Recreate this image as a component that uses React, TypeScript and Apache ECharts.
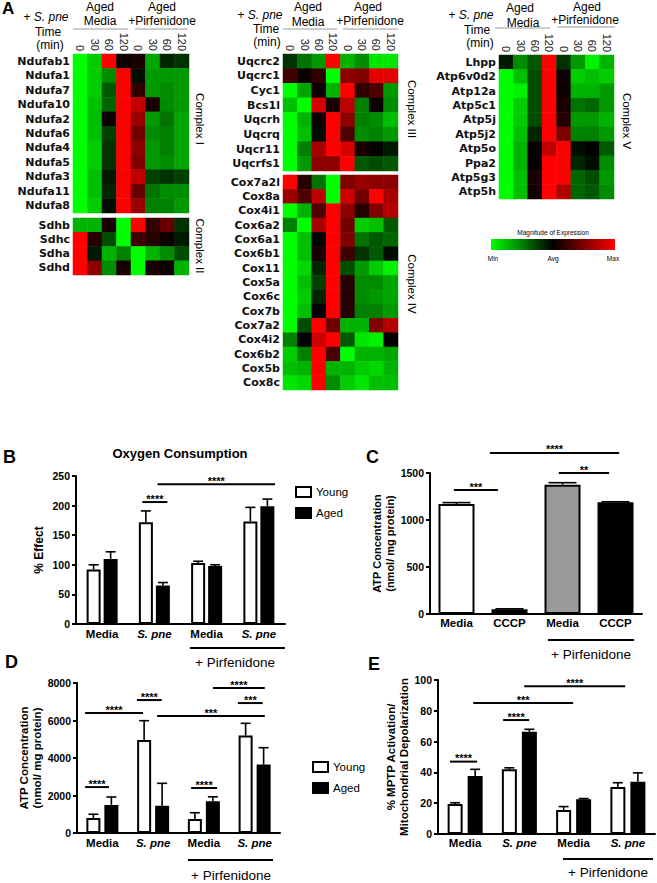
import React, { useEffect, useRef } from 'react';
import * as echarts from 'echarts';

// ---------- Panel A: heatmaps (green = min, black = avg, red = max) ----------
const timeLabels = ['0', '30', '60', '120', '0', '30', '60', '120'];

const complexIGenes = ['Ndufab1', 'Ndufa1', 'Ndufa7', 'Ndufa10', 'Ndufa2', 'Ndufa6', 'Ndufa4', 'Ndufa5', 'Ndufa3', 'Ndufa11', 'Ndufa8'];
const complexIValues = [
  [-1, -0.8, 1, 0.05, 0.1, -0.65, -0.15, -0.2],
  [-1, -0.8, -0.55, 1, -0.05, -0.6, -0.6, -0.6],
  [-1, -0.8, -0.35, 1, 0.2, -0.6, -0.55, -0.6],
  [-1, -0.75, -0.4, 1, 0.75, 0.1, -0.55, -0.6],
  [-1, -0.75, 0.05, 1, 0.6, -0.6, -0.45, -0.65],
  [-1, -0.75, -0.25, 1, 0.45, -0.55, -0.5, -0.65],
  [-1, -0.8, -0.2, 1, 0.55, -0.6, -0.5, -0.65],
  [-1, -0.8, -0.2, 1, 0.5, -0.6, -0.55, -0.65],
  [-1, -0.75, -0.1, 1, 0.75, -0.25, -0.2, -0.25],
  [-1, -0.75, -0.15, 1, 0.4, -0.45, -0.55, -0.55],
  [-1, -0.8, -0.05, 1, 0.6, -0.5, -0.5, -0.6],
];

const complexIIGenes = ['Sdhb', 'Sdhc', 'Sdha', 'Sdhd'];
const complexIIValues = [
  [-0.7, -0.7, 0.1, -1, 1, 0.2, 0.4, -0.2],
  [1, 0.15, -0.3, -1, 0.25, 0.15, 0.05, -0.1],
  [1, -0.1, -0.7, -0.5, -1, -0.7, -0.55, -0.3],
  [1, 0.55, -0.55, 0.1, -1, 0.1, 0.05, -0.7],
];

const complexIIIGenes = ['Uqcrc2', 'Uqcrc1', 'Cyc1', 'Bcs1l', 'Uqcrh', 'Uqcrq', 'Uqcr11', 'Uqcrfs1'];
const complexIIIValues = [
  [-0.2, -0.45, -0.6, 1, -0.7, -0.55, -0.9, -0.9],
  [0.25, 0.05, 0.2, -1, 0.55, 0.5, 0.9, 0.9],
  [-1, -0.65, 0.05, -0.7, 1, 0.2, 0.3, -0.6],
  [-0.75, -1, 0.85, 0.1, 0.75, -0.5, 0.05, -0.55],
  [-1, -0.7, 0.05, 1, 0.55, -0.5, -0.55, -0.75],
  [-1, -0.75, -0.05, 1, 0.3, -0.55, -0.5, -0.6],
  [-1, -0.5, 0.65, 1, 0.85, 0.1, 0.02, -0.1],
  [-1, -0.6, 0.55, 0.55, 1, -0.35, -0.3, -0.35],
];

const complexIVGenes = ['Cox7a2l', 'Cox8a', 'Cox4i1', 'Cox6a2', 'Cox6a1', 'Cox6b1', 'Cox11', 'Cox5a', 'Cox6c', 'Cox7b', 'Cox7a2', 'Cox4i2', 'Cox6b2', 'Cox5b', 'Cox8c'];
const complexIVValues = [
  [1, 0.15, -0.45, -1, 0.5, 0.6, 0.55, 0.55],
  [0.6, 0.3, 0.75, -1, 0.8, 0.45, 1, 0.65],
  [-1, -0.7, 0.3, 1, 0.55, 0.15, 0.5, 0.7],
  [-0.5, -1, 0.65, 1, 0.45, -0.8, -0.75, -0.35],
  [-1, -0.75, -0.02, 1, 0.5, -0.45, -0.35, -0.4],
  [-1, -0.75, 0.1, 1, 0.25, -0.2, -0.35, -0.05],
  [-1, -0.85, -0.15, 1, -0.3, -0.6, -0.8, -0.95],
  [-1, -0.75, -0.25, 1, 0.15, -0.55, -0.55, -0.65],
  [-1, -0.8, -0.15, 1, 0.15, -0.55, -0.6, -0.65],
  [-1, -0.75, 0, 1, 0.15, -0.5, -0.5, -0.6],
  [-1, -0.3, 1, 0.45, -0.7, -0.7, 0.5, 0.7],
  [-0.5, 0, 0.8, 1, -0.35, -0.9, -0.95, 0.02],
  [-0.8, -0.5, 1, 0.3, -1, -0.7, -0.7, -0.65],
  [-0.75, -0.7, 1, -0.7, -0.7, -0.8, -0.85, -0.7],
  [-0.9, -0.85, 1, -0.55, -0.8, -0.9, -0.75, -0.75],
];

const complexVGenes = ['Lhpp', 'Atp6v0d2', 'Atp12a', 'Atp5c1', 'Atp5j', 'Atp5j2', 'Atp5o', 'Ppa2', 'Atp5g3', 'Atp5h'];
const complexVValues = [
  [-0.1, -0.55, -0.35, 1, -0.2, -0.6, -0.95, -0.7],
  [-1, -0.75, -0.3, 1, 0.05, -0.8, -0.75, -0.8],
  [-1, -0.95, -0.3, 1, 0.05, -0.7, -0.7, -0.6],
  [-1, -0.8, -0.3, 1, 0.1, -0.45, -0.4, -0.6],
  [-1, -0.8, -0.3, 1, 0.15, -0.6, -0.6, -0.7],
  [-1, -0.75, -0.15, 1, 0.5, -0.5, -0.5, -0.6],
  [-1, -0.7, 0.02, 0.75, 1, -0.05, 0.02, -0.35],
  [-1, -0.7, 0.02, 1, 1, -0.15, -0.05, -0.55],
  [-1, -0.75, 0.1, 1, 1, -0.4, -0.3, -0.6],
  [-1, -0.75, 0.08, 1, 0.7, -0.4, -0.35, -0.55],
];

// ---------- Panel B: Oxygen consumption ----------
const groupCats = ['Media', 'S. pne', 'Media', 'S. pne'];
const oxyYoung = [92, 172, 103, 173];
const oxyYoungErr = [8, 19, 3, 24];
const oxyAged = [110, 65, 98, 199];
const oxyAgedErr = [12, 5, 2, 12];
// [y value, x start (category units), x end, number of stars]
const oxySig = [[206, 0.77, 1.25, 4], [236, 1.06, 3.31, 4]];

// ---------- Panel C: ATP with CCCP ----------
const cccpCats = ['Media', 'CCCP', 'Media', 'CCCP'];
const cccpValues = [1170, 50, 1375, 1190];
const cccpErr = [15, 5, 22, 4];
const cccpColors = ['#ffffff', '#000000', '#9a9a9a', '#000000'];
const cccpSig = [[1319, -0.05, 0.78, 3], [1713, 0.63, 3.07, 4], [1500, 1.93, 2.88, 2]];

// ---------- Panel D: ATP concentration ----------
const atpYoung = [800, 4960, 750, 5200];
const atpYoungErr = [200, 1030, 330, 650];
const atpAged = [1500, 1450, 1700, 3650];
const atpAgedErr = [420, 1200, 230, 900];
const atpSig = [[2450, -0.34, 0.13, 4], [6400, -0.34, 0.8, 4], [7090, 0.68, 1.17, 4], [6240, 1.08, 3.2, 3], [2400, 1.75, 2.26, 4], [7730, 2.18, 3.2, 4], [6930, 2.67, 3.16, 3]];

// ---------- Panel E: MPTP activation ----------
const mptpYoung = [19.5, 42, 15.6, 30.5];
const mptpYoungErr = [0.8, 1, 2.2, 2.8];
const mptpAged = [37.7, 66.4, 22.5, 34];
const mptpAgedErr = [4.3, 1.6, 0.5, 5.7];
const mptpSig = [[47, -0.28, 0.22, 4], [74, 0.7, 1.18, 4], [85, 0.15, 1.99, 3], [96, 1.09, 2.95, 4]];

const SANS = '"Liberation Sans", Arial, sans-serif';
const DEJAVU = '"DejaVu Sans", Verdana, sans-serif';
const NARROW = '"Liberation Sans Narrow", "Liberation Sans", sans-serif';

function txt(text: string, x: number, y: number, o: any = {}) {
  const align = o.align || 'center';
  const valign = o.valign || 'middle';
  return {
    type: 'text',
    x,
    y,
    rotation: o.rotation || 0,
    silent: true,
    style: {
      text,
      fill: o.color || '#000',
      fontSize: o.size || 12,
      fontFamily: o.family || SANS,
      fontWeight: o.weight || 'normal',
      fontStyle: o.style || 'normal',
      align,
      textAlign: align,
      verticalAlign: valign,
      textVerticalAlign: valign,
      rich: o.rich,
    },
  };
}

function ln(x1: number, y1: number, x2: number, y2: number, color = '#000', w = 2) {
  return { type: 'line', silent: true, shape: { x1, y1, x2, y2 }, style: { stroke: color, lineWidth: w } };
}

function errRender(offset: number, capHalf: number) {
  return (params: any, api: any) => {
    const cat = api.value(0);
    const mean = api.value(1);
    const err = api.value(2);
    const base = api.coord([cat, mean]);
    const top = api.coord([cat, mean + err]);
    const x = base[0] + offset;
    return {
      type: 'group',
      children: [
        { type: 'line', shape: { x1: x, y1: base[1], x2: x, y2: top[1] }, style: { stroke: '#000', lineWidth: 1.6 } },
        { type: 'line', shape: { x1: x - capHalf, y1: top[1], x2: x + capHalf, y2: top[1] }, style: { stroke: '#000', lineWidth: 1.6 } },
      ],
    };
  };
}

function sigRender(params: any, api: any) {
  const y = api.value(1);
  const x1 = api.value(2);
  const x2 = api.value(3);
  const n = api.value(4);
  const base = api.coord([0, y]);
  const band = api.size([1, 0])[0];
  const p1 = base[0] + x1 * band;
  const p2 = base[0] + x2 * band;
  return {
    type: 'group',
    children: [
      { type: 'line', shape: { x1: p1, y1: base[1], x2: p2, y2: base[1] }, style: { stroke: '#000', lineWidth: 2 } },
      {
        type: 'text',
        style: {
          text: '*'.repeat(n),
          x: (p1 + p2) / 2,
          y: base[1] + 2,
          align: 'center',
          verticalAlign: 'bottom',
          textAlign: 'center',
          textVerticalAlign: 'bottom',
          fontSize: 11,
          fontWeight: 'bold',
          fontFamily: SANS,
          fill: '#000',
        },
      },
    ],
  };
}

const catFmt = (v: string) => (v === 'S. pne' ? `{i|${v}}` : `{b|${v}}`);
const catRich = {
  b: { fontWeight: 'bold', fontSize: 11.5, fontFamily: SANS, color: '#000' },
  i: { fontWeight: 'bold', fontStyle: 'italic', fontSize: 11.5, fontFamily: SANS, color: '#000' },
};

function buildOption() {
  const heatBlocks = [
    { genes: complexIGenes, values: complexIValues, rect: [73, 54, 116, 159], cols: true },
    { genes: complexIIGenes, values: complexIIValues, rect: [73, 218, 116, 57], cols: false },
    { genes: complexIIIGenes, values: complexIIIValues, rect: [283, 54, 115, 117], cols: true },
    { genes: complexIVGenes, values: complexIVValues, rect: [283, 175, 115, 215], cols: false },
    { genes: complexVGenes, values: complexVValues, rect: [499, 55, 115, 144], cols: true },
  ];

  const grid: any[] = [];
  const xAxis: any[] = [];
  const yAxis: any[] = [];
  const series: any[] = [];

  heatBlocks.forEach((b, i) => {
    grid.push({ left: b.rect[0], top: b.rect[1], width: b.rect[2], height: b.rect[3], containLabel: false });
    xAxis.push({
      type: 'category',
      gridIndex: i,
      data: timeLabels,
      position: 'top',
      axisLine: { show: false },
      axisTick: { show: false },
      splitLine: { show: false },
      axisLabel: { show: b.cols, rotate: 90, interval: 0, fontSize: 11, fontFamily: SANS, color: '#222', margin: 3 },
    });
    yAxis.push({
      type: 'category',
      gridIndex: i,
      data: b.genes,
      inverse: true,
      axisLine: { show: false },
      axisTick: { show: false },
      splitLine: { show: false },
      axisLabel: { interval: 0, fontSize: 11, fontWeight: 'bold', fontFamily: DEJAVU, color: '#111', margin: 3 },
    });
    const data: any[] = [];
    b.values.forEach((row, r) => row.forEach((v, c) => data.push([c, r, v])));
    series.push({
      type: 'heatmap',
      xAxisIndex: i,
      yAxisIndex: i,
      data,
      itemStyle: { borderWidth: 0 },
      emphasis: { disabled: true },
    });
  });

  const axisLineStyle = { color: '#000', width: 2 };
  const valueAxis = (gi: number, max: number, interval: number, name: string, nameGap: number, nameSize = 11) => ({
    type: 'value',
    gridIndex: gi,
    min: 0,
    max,
    interval,
    axisLine: { show: true, lineStyle: axisLineStyle },
    axisTick: { show: true, length: 4, lineStyle: axisLineStyle },
    splitLine: { show: false },
    axisLabel: { color: '#000', fontWeight: 'bold', fontSize: 10.5, fontFamily: SANS, margin: 6, formatter: (v: number) => String(v) },
    name,
    nameLocation: 'middle',
    nameGap,
    nameRotate: 90,
    nameTextStyle: { color: '#000', fontWeight: 'bold', fontSize: nameSize, fontFamily: SANS, lineHeight: 13 },
  });
  const catAxis = (gi: number, data: string[], margin: number) => ({
    type: 'category',
    gridIndex: gi,
    data,
    axisLine: { show: true, lineStyle: axisLineStyle },
    axisTick: { show: false },
    splitLine: { show: false },
    axisLabel: { interval: 0, margin, formatter: catFmt, rich: catRich },
  });

  // grid 5: B, 6: C, 7: D, 8: E
  grid.push({ left: 76, top: 476, width: 209, height: 148 });
  grid.push({ left: 430, top: 473, width: 212, height: 141 });
  grid.push({ left: 77, top: 683, width: 203, height: 150 });
  grid.push({ left: 438, top: 680, width: 217, height: 154 });

  xAxis.push(catAxis(5, groupCats, 4));
  xAxis.push(catAxis(6, cccpCats, 3));
  xAxis.push(catAxis(7, groupCats, 4));
  xAxis.push(catAxis(8, groupCats, 3));

  yAxis.push(valueAxis(5, 250, 50, '% Effect', 31, 12));
  yAxis.push(valueAxis(6, 1500, 500, 'ATP Concentration\n(nmol/ mg protein)', 30, 11));
  yAxis.push(valueAxis(7, 8000, 2000, 'ATP Concentration\n(nmol/ mg protein)', 34, 11.5));
  yAxis.push(valueAxis(8, 100, 20, '% MPTP Activation/\nMitochondrial Depolarization', 28, 11.5));

  const youngStyle = { color: '#ffffff', borderColor: '#000', borderWidth: 2 };
  const agedStyle = { color: '#000000', borderColor: '#000', borderWidth: 2 };

  const pairChart = (gi: number, young: number[], youngErr: number[], aged: number[], agedErr: number[], bw: number, gapPx: number, cap: number, sig: number[][]) => {
    const gapPct = `${(gapPx / bw) * 100}%`;
    const off = (bw + gapPx) / 2;
    series.push({ type: 'bar', name: 'Young', xAxisIndex: gi, yAxisIndex: gi, data: young, barWidth: bw, barGap: gapPct, itemStyle: youngStyle, emphasis: { disabled: true }, z: 2 });
    series.push({ type: 'bar', name: 'Aged', xAxisIndex: gi, yAxisIndex: gi, data: aged, barWidth: bw, barGap: gapPct, itemStyle: agedStyle, emphasis: { disabled: true }, z: 2 });
    series.push({ type: 'custom', xAxisIndex: gi, yAxisIndex: gi, renderItem: errRender(-off, cap), data: young.map((v, i) => [i, v, youngErr[i]]), encode: { x: 0, y: 1 }, clip: false, silent: true, z: 3 });
    series.push({ type: 'custom', xAxisIndex: gi, yAxisIndex: gi, renderItem: errRender(off, cap), data: aged.map((v, i) => [i, v, agedErr[i]]), encode: { x: 0, y: 1 }, clip: false, silent: true, z: 3 });
    series.push({ type: 'custom', xAxisIndex: gi, yAxisIndex: gi, renderItem: sigRender, data: sig.map((s) => [0, s[0], s[1], s[2], s[3]]), encode: { x: 0, y: 1 }, clip: false, silent: true, z: 4 });
  };

  pairChart(5, oxyYoung, oxyYoungErr, oxyAged, oxyAgedErr, 14, 3, 5, oxySig);

  // C
  series.push({
    type: 'bar',
    name: 'ATP',
    xAxisIndex: 6,
    yAxisIndex: 6,
    barWidth: 36,
    data: cccpValues.map((v, i) => ({ value: v, itemStyle: { color: cccpColors[i], borderColor: '#000', borderWidth: 2 } })),
    emphasis: { disabled: true },
    z: 2,
  });
  series.push({ type: 'custom', xAxisIndex: 6, yAxisIndex: 6, renderItem: errRender(0, 14), data: cccpValues.map((v, i) => [i, v, cccpErr[i]]), encode: { x: 0, y: 1 }, clip: false, silent: true, z: 3 });
  series.push({ type: 'custom', xAxisIndex: 6, yAxisIndex: 6, renderItem: sigRender, data: cccpSig.map((s) => [0, s[0], s[1], s[2], s[3]]), encode: { x: 0, y: 1 }, clip: false, silent: true, z: 4 });

  pairChart(7, atpYoung, atpYoungErr, atpAged, atpAgedErr, 14, 4, 5, atpSig);
  pairChart(8, mptpYoung, mptpYoungErr, mptpAged, mptpAgedErr, 15, 5, 5, mptpSig);

  const legendBase = {
    orient: 'vertical',
    itemWidth: 15,
    itemHeight: 10,
    itemGap: 9,
    icon: 'rect',
    selectedMode: false,
    textStyle: { fontSize: 11.5, fontFamily: SANS, color: '#000' },
    data: [
      { name: 'Young', itemStyle: { color: '#fff', borderColor: '#000', borderWidth: 2 } },
      { name: 'Aged', itemStyle: { color: '#000', borderColor: '#000', borderWidth: 2 } },
    ],
  };

  const pne = { i: { fontStyle: 'italic', fontSize: 12, fontFamily: SANS } };
  const hdrColor = '#9a9a9a';
  const graphic: any[] = [
    // panel letters
    txt('A', 2, 0, { size: 17, weight: 'bold', align: 'left', valign: 'top' }),
    txt('B', 3, 448, { size: 18, weight: 'bold', align: 'left', valign: 'top' }),
    txt('C', 366, 448, { size: 18, weight: 'bold', align: 'left', valign: 'top' }),
    txt('D', 5, 653, { size: 18, weight: 'bold', align: 'left', valign: 'top' }),
    txt('E', 368, 655, { size: 18, weight: 'bold', align: 'left', valign: 'top' }),

    // heatmap headers: left
    txt('+ {i|S. pne}', 46, 17, { rich: pne }),
    txt('Time', 48, 32),
    txt('(min)', 50, 45),
    txt('Aged', 100, 7),
    txt('Media', 100, 21),
    txt('Aged', 162, 7),
    txt('+Pirfenidone', 162, 21),
    ln(73, 29, 128, 29, hdrColor, 1),
    ln(135, 29, 188, 29, hdrColor, 1),
    // middle
    txt('+ {i|S. pne}', 260, 15, { rich: pne }),
    txt('Time', 266, 29),
    txt('(min)', 267, 42),
    txt('Aged', 308, 7),
    txt('Media', 308, 22),
    txt('Aged', 368, 7),
    txt('+Pirfenidone', 370, 21),
    ln(283, 29, 337, 29, hdrColor, 1),
    ln(343, 29, 398, 29, hdrColor, 1),
    // right
    txt('+ {i|S. pne}', 471, 15, { rich: pne }),
    txt('Time', 477, 30),
    txt('(min)', 480, 43),
    txt('Aged', 520, 8),
    txt('Media', 523, 23),
    txt('Aged', 587, 7),
    txt('+Pirfenidone', 585, 20),
    ln(495, 28, 550, 28, hdrColor, 1),
    ln(557, 27, 615, 27, hdrColor, 1),

    // complex labels
    txt('Complex I', 200, 119, { rotation: -Math.PI / 2, size: 11.5 }),
    txt('Complex II', 200, 246, { rotation: -Math.PI / 2, size: 11.5 }),
    txt('Complex III', 412, 109, { rotation: -Math.PI / 2, size: 11.5 }),
    txt('Complex IV', 412, 284, { rotation: -Math.PI / 2, size: 11.5 }),
    txt('Complex V', 627, 121, { rotation: -Math.PI / 2, size: 11.5 }),

    // color scale
    txt('Magnitude of Expression', 553, 232, { size: 6.5, family: NARROW }),
    {
      type: 'rect',
      silent: true,
      shape: { x: 491, y: 239, width: 124, height: 11 },
      style: {
        fill: new echarts.graphic.LinearGradient(0, 0, 1, 0, [
          { offset: 0, color: '#00ff00' },
          { offset: 0.5, color: '#000000' },
          { offset: 1, color: '#ff0000' },
        ]),
      },
    },
    txt('Min', 493, 258, { size: 6.5, family: NARROW }),
    txt('Avg', 553, 258, { size: 6.5, family: NARROW }),
    txt('Max', 613, 258, { size: 6.5, family: NARROW }),

    // B
    txt('Oxygen Consumption', 180, 453, { size: 13, weight: 'bold' }),
    ln(190, 648, 285, 648),
    txt('+ Pirfenidone', 235, 662, { size: 13.5 }),
    // C
    ln(548, 640, 634, 640),
    txt('+ Pirfenidone', 591, 654, { size: 13.5 }),
    // D
    ln(188, 860, 273, 860),
    txt('+ Pirfenidone', 231, 875, { size: 13.5 }),
    // E
    ln(563, 859, 653, 859),
    txt('+ Pirfenidone', 608, 872, { size: 13.5 }),
  ];

  return {
    animation: false,
    backgroundColor: '#ffffff',
    grid,
    xAxis,
    yAxis,
    visualMap: {
      type: 'continuous',
      show: false,
      min: -1,
      max: 1,
      dimension: 2,
      seriesIndex: [0, 1, 2, 3, 4],
      inRange: { color: ['#00ff00', '#000000', '#ff0000'] },
    },
    legend: [
      { ...legendBase, left: 290, top: 481 },
      { ...legendBase, left: 307, top: 756 },
    ],
    series,
    graphic,
  };
}

export default function App() {
  const ref = useRef<HTMLDivElement>(null);
  useEffect(() => {
    document.body.style.margin = '0';
    const chart = echarts.init(ref.current as HTMLDivElement, undefined, { renderer: 'svg' });
    chart.setOption(buildOption() as any);
    return () => chart.dispose();
  }, []);
  return <div ref={ref} style={{ position: 'fixed', left: 0, top: 0, width: 657, height: 883, background: '#fff' }} />;
}
